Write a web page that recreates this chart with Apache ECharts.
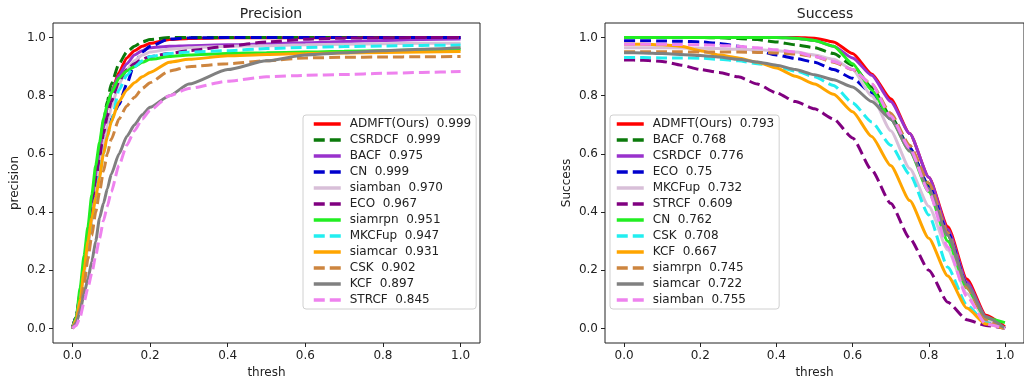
<!DOCTYPE html>
<html>
<head>
<meta charset="utf-8">
<script src="https://cdn.jsdelivr.net/npm/echarts@6/dist/echarts.min.js"></script>
<style>
  html, body { margin: 0; background: #fff; }
  #chart { width: 1024px; height: 385px; }
</style>
</head>
<body>
<div id="chart"></div>
<script>
// ---- data ----
const tickValues = [0, 0.2, 0.4, 0.6, 0.8, 1.0];

const precisionThresh = [0, 0.01, 0.02, 0.03, 0.04, 0.05, 0.06, 0.07, 0.08, 0.09, 0.1, 0.12, 0.14, 0.16, 0.18, 0.2, 0.25, 0.3, 0.4, 0.5, 0.6, 0.7, 0.8, 0.9, 1.0];
const precisionMethods = ["ADMFT(Ours)", "CSRDCF", "BACF", "CN", "siamban", "ECO", "siamrpn", "MKCFup", "siamcar", "CSK", "KCF", "STRCF"];
const precisionScores = ["0.999", "0.999", "0.975", "0.999", "0.970", "0.967", "0.951", "0.947", "0.931", "0.902", "0.897", "0.845"];

const pADMFT   = [0, 0.04, 0.12, 0.22, 0.32, 0.42, 0.52, 0.61, 0.69, 0.76, 0.81, 0.88, 0.93, 0.955, 0.97, 0.98, 0.993, 0.997, 0.999, 0.999, 0.999, 1, 1, 1, 1];
const pCSRDCF  = [0, 0.04, 0.12, 0.22, 0.33, 0.43, 0.53, 0.62, 0.71, 0.78, 0.84, 0.91, 0.95, 0.97, 0.985, 0.993, 1, 1, 1, 1, 1, 1, 1, 1, 1];
const pBACF    = [0, 0.04, 0.12, 0.22, 0.32, 0.42, 0.52, 0.61, 0.69, 0.76, 0.81, 0.87, 0.91, 0.94, 0.955, 0.965, 0.97, 0.972, 0.975, 0.978, 0.982, 0.986, 0.99, 0.993, 0.995];
const pCN      = [0, 0.04, 0.11, 0.2, 0.29, 0.38, 0.46, 0.54, 0.61, 0.67, 0.72, 0.77, 0.84, 0.91, 0.95, 0.97, 0.995, 0.999, 1, 1, 1, 1, 1, 1, 1];
const pSiamban = [0, 0.03, 0.1, 0.19, 0.28, 0.37, 0.46, 0.55, 0.63, 0.7, 0.76, 0.84, 0.89, 0.92, 0.94, 0.95, 0.96, 0.965, 0.97, 0.972, 0.975, 0.977, 0.979, 0.98, 0.98];
const pECO     = [0, 0.04, 0.11, 0.21, 0.31, 0.41, 0.5, 0.59, 0.67, 0.73, 0.78, 0.85, 0.89, 0.91, 0.925, 0.935, 0.945, 0.955, 0.97, 0.985, 0.994, 0.998, 0.999, 1, 1];
const pSiamrpn = [0, 0.04, 0.14, 0.25, 0.35, 0.46, 0.56, 0.64, 0.72, 0.77, 0.81, 0.86, 0.885, 0.9, 0.915, 0.925, 0.935, 0.94, 0.945, 0.948, 0.95, 0.953, 0.955, 0.958, 0.96];
const pMKCFup  = [0, 0.03, 0.1, 0.19, 0.28, 0.37, 0.45, 0.53, 0.6, 0.66, 0.71, 0.82, 0.87, 0.9, 0.92, 0.935, 0.945, 0.95, 0.955, 0.962, 0.966, 0.969, 0.971, 0.973, 0.974];
const pSiamcar = [0, 0.03, 0.1, 0.2, 0.3, 0.38, 0.45, 0.52, 0.6, 0.66, 0.71, 0.78, 0.82, 0.845, 0.865, 0.88, 0.915, 0.925, 0.937, 0.942, 0.945, 0.947, 0.949, 0.95, 0.952];
const pCSK     = [0, 0.02, 0.07, 0.15, 0.24, 0.32, 0.4, 0.47, 0.54, 0.6, 0.65, 0.72, 0.765, 0.795, 0.825, 0.845, 0.885, 0.9, 0.91, 0.92, 0.93, 0.932, 0.933, 0.934, 0.935];
const pKCF     = [0, 0.02, 0.06, 0.12, 0.17, 0.23, 0.3, 0.38, 0.43, 0.48, 0.53, 0.6, 0.66, 0.7, 0.735, 0.76, 0.8, 0.84, 0.89, 0.92, 0.94, 0.948, 0.955, 0.96, 0.965];
const pSTRCF   = [0, 0.01, 0.04, 0.09, 0.14, 0.19, 0.25, 0.31, 0.37, 0.42, 0.47, 0.56, 0.63, 0.68, 0.72, 0.75, 0.8, 0.825, 0.85, 0.865, 0.87, 0.873, 0.877, 0.88, 0.883];

const successThresh = [0, 0.05, 0.1, 0.15, 0.2, 0.25, 0.3, 0.35, 0.4, 0.45, 0.5, 0.55, 0.6, 0.65, 0.7, 0.75, 0.8, 0.85, 0.9, 0.95, 1.0];
const successMethods = ["ADMFT(Ours)", "BACF", "CSRDCF", "ECO", "MKCFup", "STRCF", "CN", "CSK", "KCF", "siamrpn", "siamcar", "siamban"];
const successScores = ["0.793", "0.768", "0.776", "0.75", "0.732", "0.609", "0.762", "0.708", "0.667", "0.745", "0.722", "0.755"];

const sADMFT   = [1, 1, 1, 1, 1, 1, 1, 1, 1, 1, 0.998, 0.985, 0.945, 0.875, 0.79, 0.67, 0.52, 0.35, 0.17, 0.045, 0.005];
const sBACF    = [1, 1, 1, 1, 1, 0.999, 0.997, 0.993, 0.985, 0.975, 0.965, 0.945, 0.905, 0.83, 0.73, 0.62, 0.49, 0.32, 0.14, 0.03, 0];
const sCSRDCF  = [1, 1, 1, 1, 1, 1, 1, 1, 1, 0.998, 0.99, 0.97, 0.93, 0.87, 0.78, 0.67, 0.52, 0.34, 0.16, 0.04, 0];
const sECO     = [0.989, 0.989, 0.988, 0.987, 0.985, 0.98, 0.97, 0.955, 0.94, 0.928, 0.915, 0.89, 0.86, 0.81, 0.72, 0.62, 0.49, 0.33, 0.15, 0.03, 0];
const sMKCFup  = [0.965, 0.965, 0.965, 0.964, 0.963, 0.962, 0.96, 0.958, 0.955, 0.95, 0.94, 0.925, 0.89, 0.8, 0.68, 0.55, 0.42, 0.27, 0.12, 0.03, 0];
const sSTRCF   = [0.923, 0.922, 0.918, 0.905, 0.89, 0.88, 0.865, 0.84, 0.81, 0.78, 0.755, 0.72, 0.655, 0.545, 0.43, 0.31, 0.2, 0.09, 0.03, 0.01, 0];
const sCN      = [1, 1, 1, 1, 1, 1, 1, 1, 1, 0.998, 0.99, 0.97, 0.91, 0.82, 0.72, 0.61, 0.47, 0.3, 0.14, 0.035, 0.02];
const sCSK     = [0.931, 0.931, 0.93, 0.93, 0.929, 0.925, 0.92, 0.91, 0.9, 0.885, 0.865, 0.835, 0.775, 0.71, 0.63, 0.53, 0.39, 0.21, 0.08, 0.02, 0];
const sKCF     = [0.977, 0.977, 0.975, 0.97, 0.955, 0.94, 0.93, 0.915, 0.895, 0.867, 0.84, 0.805, 0.745, 0.66, 0.56, 0.44, 0.31, 0.18, 0.07, 0.015, 0];
const sSiamrpn = [0.951, 0.951, 0.951, 0.951, 0.95, 0.95, 0.95, 0.949, 0.947, 0.943, 0.935, 0.915, 0.89, 0.84, 0.74, 0.63, 0.5, 0.33, 0.14, 0.03, 0];
const sSiamcar = [0.948, 0.947, 0.945, 0.942, 0.938, 0.933, 0.925, 0.916, 0.905, 0.89, 0.872, 0.855, 0.83, 0.78, 0.72, 0.61, 0.48, 0.32, 0.15, 0.04, 0];
const sSiamban = [0.977, 0.977, 0.977, 0.976, 0.975, 0.973, 0.97, 0.965, 0.958, 0.95, 0.935, 0.918, 0.89, 0.84, 0.73, 0.62, 0.47, 0.28, 0.11, 0.015, 0];

const precisionRows = [pADMFT, pCSRDCF, pBACF, pCN, pSiamban, pECO, pSiamrpn, pMKCFup, pSiamcar, pCSK, pKCF, pSTRCF];
const successRows = [sADMFT, sBACF, sCSRDCF, sECO, sMKCFup, sSTRCF, sCN, sCSK, sKCF, sSiamrpn, sSiamcar, sSiamban];

// ---- line styles, by position in the legend (same cycle in both plots) ----
const dash = [11, 5];
const styleCycle = [
  { color: "#ff0000", type: "solid" },
  { color: "#0b7a0b", type: dash },
  { color: "#9932cc", type: "solid" },
  { color: "#0000cd", type: dash },
  { color: "#d8bfd8", type: "solid" },
  { color: "#800080", type: dash },
  { color: "#22ee22", type: "solid" },
  { color: "#22eef0", type: dash },
  { color: "#ffa500", type: "solid" },
  { color: "#cd853f", type: dash },
  { color: "#808080", type: "solid" },
  { color: "#ee82ee", type: dash },
];

const font = "DejaVu Sans";
const ink = "#222";

const labels = (methods, scores) => methods.map((m, i) => `${m}  ${scores[i]}`);
const precisionNames = labels(precisionMethods, precisionScores);
const successNames = labels(successMethods, successScores);

function buildSeries(xs, rows, names, index) {
  return rows.map((ys, i) => ({
    type: "line",
    name: names[i],
    xAxisIndex: index,
    yAxisIndex: index,
    data: xs.map((x, j) => [x, ys[j]]),
    symbol: "none",
    showSymbol: false,
    smooth: 0.2,
    smoothMonotone: "x",
    lineStyle: { color: styleCycle[i].color, width: 3, type: styleCycle[i].type },
    itemStyle: { color: styleCycle[i].color },
  }));
}

function axis(index, name, gap) {
  return {
    type: "value",
    gridIndex: index,
    min: -0.05,
    max: 1.05,
    name,
    nameLocation: "middle",
    nameGap: gap,
    nameTextStyle: { fontFamily: font, fontSize: 12, color: ink },
    axisLine: { show: false, onZero: false },
    splitLine: { show: false },
    axisTick: { show: true, length: 4, customValues: tickValues, lineStyle: { color: ink } },
    axisLabel: {
      customValues: tickValues,
      formatter: (v) => v.toFixed(1),
      margin: 7,
      fontFamily: font,
      fontSize: 12,
      color: ink,
    },
  };
}

function legend(names, left, padLeft) {
  return {
    data: names,
    orient: "vertical",
    left,
    top: 115,
    itemWidth: 27,
    itemHeight: 14,
    itemGap: 4,
    padding: [3, 5, 3, padLeft],
    backgroundColor: "#fff",
    borderColor: "#d0d0d0",
    borderWidth: 1,
    borderRadius: 3,
    selectedMode: false,
    // the line series icon carries a marker in the middle; hide it, keep the stroke
    itemStyle: { opacity: 0, color: "rgba(0,0,0,0)", borderWidth: 0 },
    lineStyle: { width: 3.5 },
    textStyle: { fontFamily: font, fontSize: 12, color: ink, padding: [0, 0, 0, 4] },
  };
}

const chart = echarts.init(document.getElementById("chart"), null, { renderer: "canvas" });
chart.setOption({
  animation: false,
  backgroundColor: "#fff",
  title: [
    { text: "Precision", left: 266, top: 2, textAlign: "center", textStyle: { fontFamily: font, fontSize: 14, fontWeight: "normal", color: ink } },
    { text: "Success", left: 820, top: 2, textAlign: "center", textStyle: { fontFamily: font, fontSize: 14, fontWeight: "normal", color: ink } },
  ],
  grid: [
    { left: 53, top: 23, width: 427, height: 320, show: true, borderColor: ink, borderWidth: 1, backgroundColor: "transparent" },
    { left: 605, top: 23, width: 427, height: 320, show: true, borderColor: ink, borderWidth: 1, backgroundColor: "transparent" },
  ],
  xAxis: [axis(0, "thresh", 23), axis(1, "thresh", 23)],
  yAxis: [axis(0, "precision", 32), axis(1, "Success", 32)],
  legend: [legend(precisionNames, 303, 9), legend(successNames, 610, 5)],
  series: [
    ...buildSeries(precisionThresh, precisionRows, precisionNames, 0),
    ...buildSeries(successThresh, successRows, successNames, 1),
  ],
});
</script>
</body>
</html>
